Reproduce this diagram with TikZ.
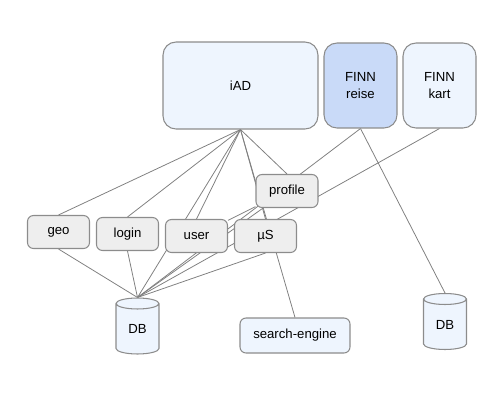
\documentclass[tikz,border=0pt]{standalone}
\usepackage{fontspec}
\setmainfont{Liberation Sans}
\usetikzlibrary{shapes.geometric, backgrounds}

\definecolor{boxline}{HTML}{8C8C8C}
\definecolor{paleblue}{HTML}{EEF5FE}
\definecolor{midblue}{HTML}{C9DAF8}
\definecolor{palegray}{HTML}{EEEEEE}
\definecolor{wiregray}{HTML}{808080}

\tikzset{
  app/.style={draw=boxline, line width=0.6pt, rounded corners=0.26cm, fill=paleblue,
    align=center, inner sep=0pt},
  svc/.style={draw=boxline, line width=0.6pt, rounded corners=0.12cm, fill=palegray,
    inner sep=0pt, minimum width=1.24cm, minimum height=0.66cm},
  store/.style={cylinder, shape border rotate=90, aspect=0.6, draw=boxline,
    line width=0.6pt, fill=paleblue, inner sep=0pt, minimum width=0.86cm,
    minimum height=1.12cm},
  wire/.style={draw=wiregray, line width=0.45pt}
}

\begin{document}
\begin{tikzpicture}[x=0.02cm, y=-0.02cm, font=\fontsize{7.5}{10.2}\selectfont]
  \useasboundingbox (0,0) rectangle (500,400);

%apps
  \node[app, minimum width=3.1cm, minimum height=1.74cm] (iad) at (240.5,85.5) {iAD};
  \node[app, fill=midblue, minimum width=1.46cm, minimum height=1.7cm] (reise) at (360.5,85.5) {FINN\\reise};
  \node[app, minimum width=1.46cm, minimum height=1.7cm] (kart) at (439.5,85.5) {FINN\\kart};

%services
  \node[svc] (profile) at (287,191) {profile};
  \node[svc] (geo) at (58.5,232) {geo};
  \node[svc] (login) at (127.5,234) {login};
  \node[svc] (user) at (196.5,236) {user};
  \node[svc] (mus) at (265.5,236) {µS};
  \node[app, rounded corners=0.12cm, minimum width=2.2cm, minimum height=0.7cm] (search) at (295,335.5) {search-engine};

%storage
  \node[store] (db) at (137.5,329) {DB};
  \node[store] (db2) at (445,324.5) {DB};

%edges
  \begin{scope}[on background layer]
    \foreach \t in {geo, login, user, mus, profile, search, db}
      \draw[wire] (iad.south) -- (\t.north);
    \foreach \t/\a in {geo/south, login/south, mus/south, profile/center, reise/south, kart/south}
      \draw[wire] (db.north) -- (\t.\a);
    \draw[wire] (profile) -- (user);
    \draw[wire] (reise.south) -- (db2.north);
  \end{scope}
\end{tikzpicture}
\end{document}
